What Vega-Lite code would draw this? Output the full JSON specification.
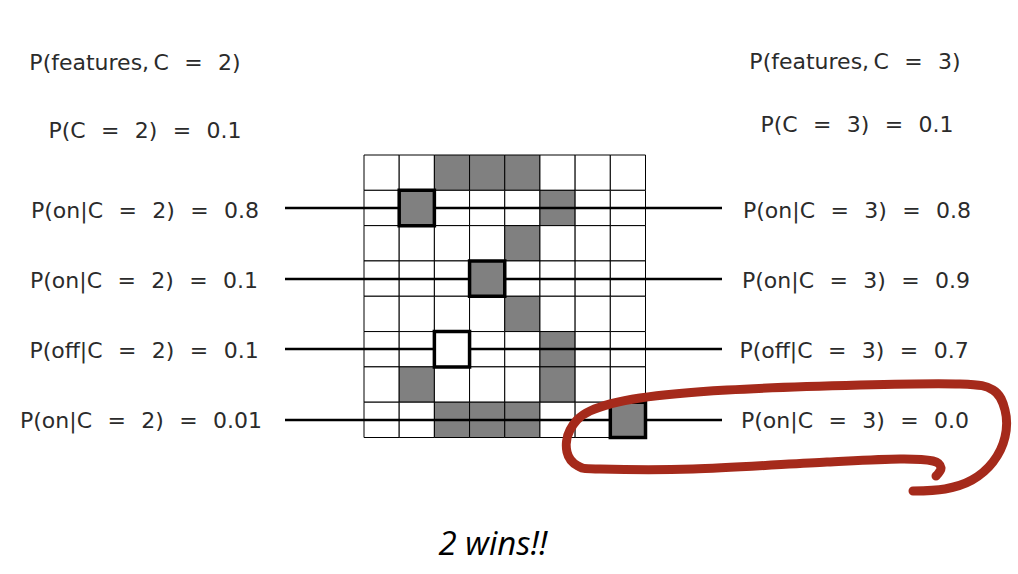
{
  "$schema": "https://vega.github.io/schema/vega-lite/v6.json",
  "description": "Naive Bayes comparison slide: feature grid with class likelihoods",
  "width": 1018,
  "height": 574,
  "autosize": {"type": "fit", "contains": "padding"},
  "padding": 0,
  "background": "white",
  "config": {"view": {"stroke": null}},
  "datasets": {
    "cells": [
      {"row": 0, "col": 0, "shade": "off"}, {"row": 0, "col": 1, "shade": "off"}, {"row": 0, "col": 2, "shade": "on"}, {"row": 0, "col": 3, "shade": "on"},
      {"row": 0, "col": 4, "shade": "on"}, {"row": 0, "col": 5, "shade": "off"}, {"row": 0, "col": 6, "shade": "off"}, {"row": 0, "col": 7, "shade": "off"},
      {"row": 1, "col": 0, "shade": "off"}, {"row": 1, "col": 1, "shade": "on"}, {"row": 1, "col": 2, "shade": "off"}, {"row": 1, "col": 3, "shade": "off"},
      {"row": 1, "col": 4, "shade": "off"}, {"row": 1, "col": 5, "shade": "on"}, {"row": 1, "col": 6, "shade": "off"}, {"row": 1, "col": 7, "shade": "off"},
      {"row": 2, "col": 0, "shade": "off"}, {"row": 2, "col": 1, "shade": "off"}, {"row": 2, "col": 2, "shade": "off"}, {"row": 2, "col": 3, "shade": "off"},
      {"row": 2, "col": 4, "shade": "on"}, {"row": 2, "col": 5, "shade": "off"}, {"row": 2, "col": 6, "shade": "off"}, {"row": 2, "col": 7, "shade": "off"},
      {"row": 3, "col": 0, "shade": "off"}, {"row": 3, "col": 1, "shade": "off"}, {"row": 3, "col": 2, "shade": "off"}, {"row": 3, "col": 3, "shade": "on"},
      {"row": 3, "col": 4, "shade": "off"}, {"row": 3, "col": 5, "shade": "off"}, {"row": 3, "col": 6, "shade": "off"}, {"row": 3, "col": 7, "shade": "off"},
      {"row": 4, "col": 0, "shade": "off"}, {"row": 4, "col": 1, "shade": "off"}, {"row": 4, "col": 2, "shade": "off"}, {"row": 4, "col": 3, "shade": "off"},
      {"row": 4, "col": 4, "shade": "on"}, {"row": 4, "col": 5, "shade": "off"}, {"row": 4, "col": 6, "shade": "off"}, {"row": 4, "col": 7, "shade": "off"},
      {"row": 5, "col": 0, "shade": "off"}, {"row": 5, "col": 1, "shade": "off"}, {"row": 5, "col": 2, "shade": "off"}, {"row": 5, "col": 3, "shade": "off"},
      {"row": 5, "col": 4, "shade": "off"}, {"row": 5, "col": 5, "shade": "on"}, {"row": 5, "col": 6, "shade": "off"}, {"row": 5, "col": 7, "shade": "off"},
      {"row": 6, "col": 0, "shade": "off"}, {"row": 6, "col": 1, "shade": "on"}, {"row": 6, "col": 2, "shade": "off"}, {"row": 6, "col": 3, "shade": "off"},
      {"row": 6, "col": 4, "shade": "off"}, {"row": 6, "col": 5, "shade": "on"}, {"row": 6, "col": 6, "shade": "off"}, {"row": 6, "col": 7, "shade": "off"},
      {"row": 7, "col": 0, "shade": "off"}, {"row": 7, "col": 1, "shade": "off"}, {"row": 7, "col": 2, "shade": "on"}, {"row": 7, "col": 3, "shade": "on"},
      {"row": 7, "col": 4, "shade": "on"}, {"row": 7, "col": 5, "shade": "off"}, {"row": 7, "col": 6, "shade": "off"}, {"row": 7, "col": 7, "shade": "on"}
    ],
    "boxes": [
      {"row": 1, "col": 1, "shade": "on"},
      {"row": 3, "col": 3, "shade": "on"},
      {"row": 5, "col": 2, "shade": "off"},
      {"row": 7, "col": 7, "shade": "on"}
    ],
    "lines": [
      {"x": 285, "x2": 722, "y": 208},
      {"x": 285, "x2": 722, "y": 279},
      {"x": 285, "x2": 722, "y": 349},
      {"x": 285, "x2": 722, "y": 420}
    ],
    "labels": [
      {"label": "P(features,\u2009C\u2002\u2009=\u2002\u20092)", "x": 135, "y": 63},
      {"label": "P(C\u2002\u2009=\u2002\u20092)\u2002\u2009=\u2002\u20090.1", "x": 145, "y": 131},
      {"label": "P(on|C\u2002\u2009=\u2002\u20092)\u2002\u2009=\u2002\u20090.8", "x": 145, "y": 211},
      {"label": "P(on|C\u2002\u2009=\u2002\u20092)\u2002\u2009=\u2002\u20090.1", "x": 144, "y": 281},
      {"label": "P(off|C\u2002\u2009=\u2002\u20092)\u2002\u2009=\u2002\u20090.1", "x": 144, "y": 351},
      {"label": "P(on|C\u2002\u2009=\u2002\u20092)\u2002\u2009=\u2002\u20090.01", "x": 141, "y": 421},
      {"label": "P(features,\u2009C\u2002\u2009=\u2002\u20093)", "x": 855, "y": 62},
      {"label": "P(C\u2002\u2009=\u2002\u20093)\u2002\u2009=\u2002\u20090.1", "x": 857, "y": 125},
      {"label": "P(on|C\u2002\u2009=\u2002\u20093)\u2002\u2009=\u2002\u20090.8", "x": 857, "y": 211},
      {"label": "P(on|C\u2002\u2009=\u2002\u20093)\u2002\u2009=\u2002\u20090.9", "x": 856, "y": 281},
      {"label": "P(off|C\u2002\u2009=\u2002\u20093)\u2002\u2009=\u2002\u20090.7", "x": 854, "y": 351},
      {"label": "P(on|C\u2002\u2009=\u2002\u20093)\u2002\u2009=\u2002\u20090.0", "x": 855, "y": 421}
    ],
    "loop": [
      {"i": 1, "x": 936, "y": 476}, {"i": 2, "x": 941, "y": 468}, {"i": 3, "x": 933, "y": 461},
      {"i": 4, "x": 900, "y": 459}, {"i": 5, "x": 827, "y": 462}, {"i": 6, "x": 693, "y": 469},
      {"i": 7, "x": 600, "y": 469}, {"i": 8, "x": 578, "y": 466}, {"i": 9, "x": 567, "y": 452},
      {"i": 10, "x": 570, "y": 430}, {"i": 11, "x": 590, "y": 411}, {"i": 12, "x": 640, "y": 398},
      {"i": 13, "x": 727, "y": 390}, {"i": 14, "x": 860, "y": 385}, {"i": 15, "x": 960, "y": 384},
      {"i": 16, "x": 993, "y": 390}, {"i": 17, "x": 1005, "y": 410}, {"i": 18, "x": 1005, "y": 437},
      {"i": 19, "x": 993, "y": 462}, {"i": 20, "x": 972, "y": 480}, {"i": 21, "x": 945, "y": 489},
      {"i": 22, "x": 913, "y": 491}
    ],
    "caption": [
      {"label": "2 wins!!", "x": 493, "y": 545}
    ]
  },
  "resolve": {"scale": {"x": "independent", "y": "independent"}},
  "layer": [
    {
      "data": {"name": "cells"},
      "mark": {"type": "rect", "stroke": "black", "strokeWidth": 1},
      "encoding": {
        "x": {"field": "col", "type": "ordinal", "axis": null,
              "scale": {"domain": [0, 1, 2, 3, 4, 5, 6, 7], "range": [364, 645.5], "paddingInner": 0, "paddingOuter": 0}},
        "y": {"field": "row", "type": "ordinal", "axis": null,
              "scale": {"domain": [0, 1, 2, 3, 4, 5, 6, 7], "range": [155, 437.5], "paddingInner": 0, "paddingOuter": 0}},
        "fill": {"field": "shade", "type": "nominal", "legend": null,
                 "scale": {"domain": ["on", "off"], "range": ["#808080", "#ffffff"]}}
      }
    },
    {
      "data": {"name": "lines"},
      "mark": {"type": "rule", "color": "black", "strokeWidth": 2.5},
      "encoding": {
        "x": {"field": "x", "type": "quantitative", "axis": null, "scale": {"domain": [0, 1018], "range": [0, 1018]}},
        "x2": {"field": "x2"},
        "y": {"field": "y", "type": "quantitative", "axis": null, "scale": {"domain": [0, 574], "range": [0, 574]}}
      }
    },
    {
      "data": {"name": "boxes"},
      "mark": {"type": "rect", "stroke": "black", "strokeWidth": 3.5},
      "encoding": {
        "x": {"field": "col", "type": "ordinal", "axis": null,
              "scale": {"domain": [0, 1, 2, 3, 4, 5, 6, 7], "range": [364, 645.5], "paddingInner": 0, "paddingOuter": 0}},
        "y": {"field": "row", "type": "ordinal", "axis": null,
              "scale": {"domain": [0, 1, 2, 3, 4, 5, 6, 7], "range": [155, 437.5], "paddingInner": 0, "paddingOuter": 0}},
        "fill": {"field": "shade", "type": "nominal", "legend": null,
                 "scale": {"domain": ["on", "off"], "range": ["#808080", "#ffffff"]}}
      }
    },
    {
      "data": {"name": "labels"},
      "mark": {"type": "text", "font": "DejaVu Sans", "fontSize": 22, "color": "#2b2b2b", "align": "center", "baseline": "middle"},
      "encoding": {
        "x": {"field": "x", "type": "quantitative", "axis": null, "scale": {"domain": [0, 1018], "range": [0, 1018]}},
        "y": {"field": "y", "type": "quantitative", "axis": null, "scale": {"domain": [0, 574], "range": [0, 574]}},
        "text": {"field": "label"}
      }
    },
    {
      "data": {"name": "loop"},
      "mark": {"type": "line", "color": "#a52a1b", "strokeWidth": 9, "strokeCap": "round", "strokeJoin": "round", "interpolate": "cardinal"},
      "encoding": {
        "x": {"field": "x", "type": "quantitative", "axis": null, "scale": {"domain": [0, 1018], "range": [0, 1018]}},
        "y": {"field": "y", "type": "quantitative", "axis": null, "scale": {"domain": [0, 574], "range": [0, 574]}},
        "order": {"field": "i", "type": "quantitative"}
      }
    },
    {
      "data": {"name": "caption"},
      "mark": {"type": "text", "font": "Open Sans", "fontStyle": "italic", "fontSize": 33, "color": "black", "align": "center", "baseline": "middle"},
      "encoding": {
        "x": {"field": "x", "type": "quantitative", "axis": null, "scale": {"domain": [0, 1018], "range": [0, 1018]}},
        "y": {"field": "y", "type": "quantitative", "axis": null, "scale": {"domain": [0, 574], "range": [0, 574]}},
        "text": {"field": "label"}
      }
    }
  ]
}
